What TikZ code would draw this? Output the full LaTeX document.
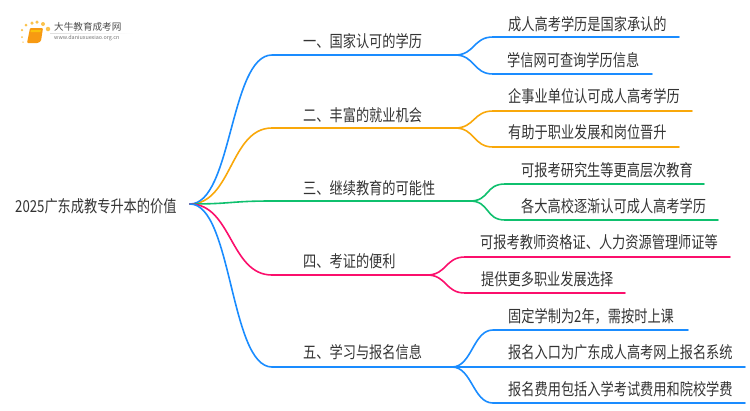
\documentclass[tikz,border=0pt]{standalone}
\usepackage{fontspec}
\setmainfont[FakeStretch=0.8]{Noto Sans CJK SC}
\newfontfamily\logofont{Noto Sans CJK SC}
\usetikzlibrary{fadings}
\definecolor{lineblue}{HTML}{1A8CFF}
\definecolor{lineorange}{HTML}{F9A80A}
\definecolor{linegreen}{HTML}{0FC06E}
\definecolor{linepink}{HTML}{FB0F6C}
\definecolor{inktext}{HTML}{333333}
\definecolor{logoorange}{HTML}{F79A12}
\definecolor{logodot}{HTML}{FBC24C}
\tikzset{
	lab/.style={anchor=west, inner sep=0pt, text=inktext, font=\fontsize{16.5}{18}\selectfont},
	branch/.style={line width=1.6pt, line cap=round},
	dot/.style={circle, fill=logodot, inner sep=0pt, minimum size=#1}
}
\begin{document}
\begin{tikzpicture}[x=1pt, y=-1pt]
	\useasboundingbox (0,0) rectangle (750,410);
	% logo
	\node[dot=3] (d1) at (26,25) {};
	\node[dot=3.5] (d2) at (32,23) {};
	\node[dot=3.5] (d3) at (37,22) {};
	\node[dot=4] (d4) at (43,24) {};
	\node[dot=4.5] (d5) at (48,29) {};
	\node[dot=2.5] (d6) at (22,30) {};
	\node[dot=2] (d7) at (22,37) {};
	\node[dot=1.5] (d8) at (23,42) {};
	\fill[logoorange, rounded corners=1pt] (30,28) -- (43,28) -- (41,41) -- (38,43) -- (27,43) -- cycle;
	\fill[logoorange!60!yellow] (31,30) -- (41,30) -- (40.5,32) -- (30.5,32) -- cycle;
	\fill[gray!25, path fading=east] (50,33) rectangle (133,33.6);
	\node[inner sep=0pt, anchor=west, text=black!70, font=\logofont\fontsize{9.6}{11}\selectfont] (logoname) at (54,27) {大牛教育成考网};
	\node[inner sep=0pt, anchor=west, text=black!55, font=\logofont\fontsize{5.4}{6}\selectfont] (logoweb) at (54,38.5) {www.daniuxuexiao.org.cn};
	% root
	\node[lab] (root) at (15,206) {2025广东成教专升本的价值};
	\coordinate (0) at (190,204);
	% main branches
	\coordinate (1) at (272,55);
	\coordinate (1e) at (455,55);
	\coordinate (2) at (272,128);
	\coordinate (2e) at (455,128);
	\coordinate (3) at (272,201);
	\coordinate (3e) at (470,201);
	\coordinate (4) at (272,275);
	\coordinate (4e) at (427,275);
	\coordinate (5) at (272,367);
	\coordinate (5e) at (452,367);
	\node[lab] (t1) at (303,41) {一、国家认可的学历};
	\node[lab] (t2) at (303,115) {二、丰富的就业机会};
	\node[lab] (t3) at (303,188) {三、继续教育的可能性};
	\node[lab] (t4) at (303,261) {四、考证的便利};
	\node[lab] (t5) at (303,352) {五、学习与报名信息};
	% sub branches
	\coordinate (11) at (493,37);
	\coordinate (11e) at (679,37);
	\coordinate (12) at (493,74);
	\coordinate (12e) at (652,74);
	\coordinate (21) at (493,111);
	\coordinate (21e) at (692,111);
	\coordinate (22) at (493,147);
	\coordinate (22e) at (679,147);
	\coordinate (31) at (505,184);
	\coordinate (31e) at (704,184);
	\coordinate (32) at (505,220);
	\coordinate (32e) at (718,220);
	\coordinate (41) at (465,257);
	\coordinate (41e) at (730,257);
	\coordinate (42) at (465,293);
	\coordinate (42e) at (625,293);
	\coordinate (51) at (493,330);
	\coordinate (51e) at (688,330);
	\coordinate (52) at (493,367);
	\coordinate (52e) at (745,367);
	\coordinate (53) at (493,403);
	\coordinate (53e) at (745,403);
	\node[lab] (t11) at (508,24) {成人高考学历是国家承认的};
	\node[lab] (t12) at (507,60) {学信网可查询学历信息};
	\node[lab] (t21) at (508,96) {企事业单位认可成人高考学历};
	\node[lab] (t22) at (508,132) {有助于职业发展和岗位晋升};
	\node[lab] (t31) at (521,170) {可报考研究生等更高层次教育};
	\node[lab] (t32) at (521,206) {各大高校逐渐认可成人高考学历};
	\node[lab] (t41) at (480,242) {可报考教师资格证、人力资源管理师证等};
	\node[lab] (t42) at (481,279) {提供更多职业发展选择};
	\node[lab] (t51) at (508,316) {固定学制为2年，需按时上课};
	\node[lab] (t52) at (508,352) {报名入口为广东成人高考网上报名系统};
	\node[lab] (t53) at (508,389) {报名费用包括入学考试费用和院校学费};
	% connectors
	\draw[branch, lineorange] (0) .. controls +(42,0) and +(-42,0) .. (2) -- (2e);
	\draw[branch, lineblue] (0) .. controls +(42,0) and +(-42,0) .. (1) -- (1e);
	\draw[branch, linegreen] (0) .. controls +(42,0) and +(-42,0) .. (3) -- (3e);
	\draw[branch, linepink] (0) .. controls +(42,0) and +(-42,0) .. (4) -- (4e);
	\draw[branch, lineblue] (0) .. controls +(42,0) and +(-42,0) .. (5) -- (5e);
	\draw[branch, lineblue] (1e) .. controls +(20,0) and +(-20,0) .. (11) -- (11e);
	\draw[branch, lineblue] (1e) .. controls +(20,0) and +(-20,0) .. (12) -- (12e);
	\draw[branch, lineorange] (2e) .. controls +(20,0) and +(-20,0) .. (21) -- (21e);
	\draw[branch, lineorange] (2e) .. controls +(20,0) and +(-20,0) .. (22) -- (22e);
	\draw[branch, linegreen] (3e) .. controls +(20,0) and +(-20,0) .. (31) -- (31e);
	\draw[branch, linegreen] (3e) .. controls +(20,0) and +(-20,0) .. (32) -- (32e);
	\draw[branch, linepink] (4e) .. controls +(20,0) and +(-20,0) .. (41) -- (41e);
	\draw[branch, linepink] (4e) .. controls +(20,0) and +(-20,0) .. (42) -- (42e);
	\draw[branch, lineblue] (5e) .. controls +(20,0) and +(-20,0) .. (51) -- (51e);
	\draw[branch, lineblue] (5e) .. controls +(20,0) and +(-20,0) .. (52) -- (52e);
	\draw[branch, lineblue] (5e) .. controls +(20,0) and +(-20,0) .. (53) -- (53e);
\end{tikzpicture}
\end{document}
